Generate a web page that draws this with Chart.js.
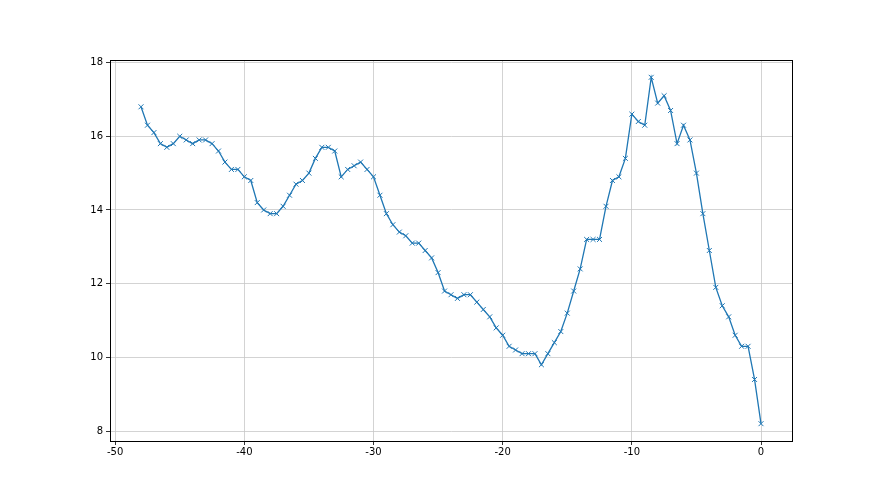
<!DOCTYPE html>
<html>
<head>
<meta charset="utf-8">
<script src="https://cdn.jsdelivr.net/npm/chart.js@4/dist/chart.umd.min.js"></script>
<style>
  html, body { margin: 0; padding: 0; background: #fff; }
  #wrap { width: 880px; height: 495px; }
</style>
</head>
<body>
<div id="wrap"><canvas id="chart" width="880" height="495"></canvas></div>
<script>
// x positions of the samples
var xValues = [
  -48, -47.5, -47, -46.5, -46, -45.5, -45, -44.5, -44, -43.5,
  -43, -42.5, -42, -41.5, -41, -40.5, -40, -39.5, -39, -38.5,
  -38, -37.5, -37, -36.5, -36, -35.5, -35, -34.5, -34, -33.5,
  -33, -32.5, -32, -31.5, -31, -30.5, -30, -29.5, -29, -28.5,
  -28, -27.5, -27, -26.5, -26, -25.5, -25, -24.5, -24, -23.5,
  -23, -22.5, -22, -21.5, -21, -20.5, -20, -19.5, -19, -18.5,
  -18, -17.5, -17, -16.5, -16, -15.5, -15, -14.5, -14, -13.5,
  -13, -12.5, -12, -11.5, -11, -10.5, -10, -9.5, -9, -8.5,
  -8, -7.5, -7, -6.5, -6, -5.5, -5, -4.5, -4, -3.5,
  -3, -2.5, -2, -1.5, -1, -0.5, 0
];
var yValues = [
  16.8, 16.3, 16.1, 15.8, 15.7, 15.8, 16.0, 15.9, 15.8, 15.9,
  15.9, 15.8, 15.6, 15.3, 15.1, 15.1, 14.9, 14.8, 14.2, 14.0,
  13.9, 13.9, 14.1, 14.4, 14.7, 14.8, 15.0, 15.4, 15.7, 15.7,
  15.6, 14.9, 15.1, 15.2, 15.3, 15.1, 14.9, 14.4, 13.9, 13.6,
  13.4, 13.3, 13.1, 13.1, 12.9, 12.7, 12.3, 11.8, 11.7, 11.6,
  11.7, 11.7, 11.5, 11.3, 11.1, 10.8, 10.6, 10.3, 10.2, 10.1,
  10.1, 10.1, 9.8, 10.1, 10.4, 10.7, 11.2, 11.8, 12.4, 13.2,
  13.2, 13.2, 14.1, 14.8, 14.9, 15.4, 16.6, 16.4, 16.3, 17.6,
  16.9, 17.1, 16.7, 15.8, 16.3, 15.9, 15.0, 13.9, 12.9, 11.9,
  11.4, 11.1, 10.6, 10.3, 10.3, 9.4, 8.2
];
var xTicks = [-50, -40, -30, -20, -10, 0];
var yTicks = [8, 10, 12, 14, 16, 18];

var points = xValues.map(function(x, i) { return { x: x, y: yValues[i] }; });

// matplotlib-like frame around the plot area
var framePlugin = {
  id: 'frame',
  afterDraw: function(chart) {
    var a = chart.chartArea, ctx = chart.ctx;
    ctx.save();
    ctx.strokeStyle = '#000';
    ctx.lineWidth = 1;
    ctx.strokeRect(Math.round(a.left) + 0.5, Math.round(a.top) + 0.5,
      Math.round(a.right - a.left), Math.round(a.bottom - a.top));
    ctx.restore();
  }
};

var font = { family: 'DejaVu Sans', size: 10 };

new Chart(document.getElementById('chart'), {
  type: 'line',
  data: {
    datasets: [{
      data: points,
      borderColor: '#1f77b4',
      backgroundColor: '#1f77b4',
      borderWidth: 1.3,
      pointStyle: 'crossRot',
      pointRadius: 3.5,
      pointBorderWidth: 1,
      pointHoverRadius: 3.5,
      tension: 0,
      fill: false
    }]
  },
  options: {
    responsive: false,
    animation: false,
    events: [],
    layout: { padding: { left: 0, top: 60, right: 88, bottom: 0 } },
    plugins: { legend: { display: false }, tooltip: { enabled: false } },
    scales: {
      x: {
        type: 'linear',
        min: -50.4,
        max: 2.4,
        afterBuildTicks: function(s) { s.ticks = xTicks.map(function(v) { return { value: v }; }); },
        afterFit: function(s) { s.height = 54; },
        grid: { color: '#c8c8c8', lineWidth: 0.8, tickColor: '#000', tickLength: 4 },
        border: { color: '#000', width: 1 },
        ticks: { color: '#000', font: font, padding: 1, maxRotation: 0 }
      },
      y: {
        type: 'linear',
        min: 7.73,
        max: 18.07,
        afterBuildTicks: function(s) { s.ticks = yTicks.map(function(v) { return { value: v }; }); },
        afterFit: function(s) { s.width = 110; },
        grid: { color: '#c8c8c8', lineWidth: 0.8, tickColor: '#000', tickLength: 4 },
        border: { color: '#000', width: 1 },
        ticks: { color: '#000', font: font, padding: 3 }
      }
    }
  },
  plugins: [framePlugin]
});
</script>
</body>
</html>
